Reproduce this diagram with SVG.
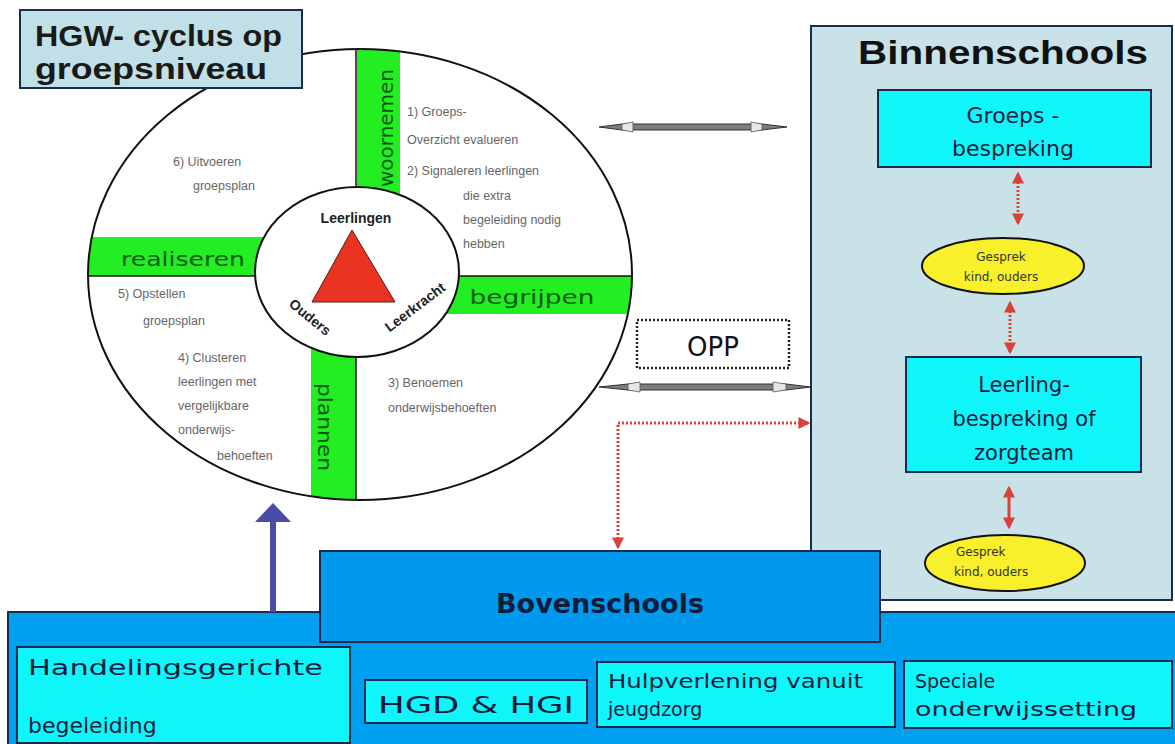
<svg xmlns="http://www.w3.org/2000/svg" width="1175" height="744" viewBox="0 0 1175 744">
<style>
.gray{font-family:"Liberation Sans",Arial,sans-serif;font-size:12.5px;fill:#666}
.comic{font-family:"DejaVu Sans",sans-serif;fill:#0e1d3c}
.bar{font-family:"DejaVu Sans",sans-serif;font-size:19px;fill:#0b5a12}
.box{stroke:#1b2b4b;stroke-width:2}
.cyan{fill:#0ff6fa}
.blue{fill:#00a0f0}
.reddot{fill:none;stroke:#d9423a;stroke-width:3;stroke-dasharray:2 2}
.ell{fill:#f7f02a;stroke:#111;stroke-width:2}
.gtext{font-family:"DejaVu Sans",sans-serif;font-size:12px;fill:#333}
.core{font-family:"Liberation Sans",Arial,sans-serif;font-weight:bold;fill:#222}
</style>
<defs>
<marker id="rh" viewBox="0 0 10 10" refX="8" refY="5" markerWidth="4" markerHeight="4" orient="auto-start-reverse"><path d="M0,0 L10,5 L0,10 z" fill="#d9423a"/></marker>
<clipPath id="outer"><ellipse cx="360" cy="274.5" rx="272" ry="225.5"/></clipPath>
</defs>

<g id="cycle">
<ellipse cx="360" cy="274.5" rx="272" ry="225.5" fill="#fff"/>
<g clip-path="url(#outer)">
<rect x="357" y="40" width="43" height="170" fill="#22ee22"/>
<rect x="80" y="237" width="190" height="39" fill="#22ee22"/>
<rect x="440" y="276" width="200" height="38" fill="#22ee22"/>
<rect x="311" y="330" width="45" height="180" fill="#22ee22"/>
<line x1="356" y1="40" x2="356" y2="510" stroke="#111" stroke-width="1.5"/>
<line x1="80" y1="276" x2="640" y2="276" stroke="#111" stroke-width="1.5"/>
</g>
<ellipse cx="360" cy="274.5" rx="272" ry="225.5" fill="none" stroke="#111" stroke-width="2"/>
<text class="bar" x="183" y="266" text-anchor="middle" textLength="124" lengthAdjust="spacingAndGlyphs">realiseren</text>
<text class="bar" x="532" y="304" text-anchor="middle" textLength="125" lengthAdjust="spacingAndGlyphs">begrijpen</text>
<text class="bar" transform="translate(393,128) rotate(-90)" text-anchor="middle" textLength="118" lengthAdjust="spacingAndGlyphs">woornemen</text>
<text class="bar" transform="translate(318,427) rotate(90)" text-anchor="middle" textLength="88" lengthAdjust="spacingAndGlyphs">plannen</text>
<text class="gray" x="173" y="166">6) Uitvoeren</text>
<text class="gray" x="193" y="190">groepsplan</text>
<text class="gray" x="407" y="116">1) Groeps-</text>
<text class="gray" x="407" y="144">Overzicht evalueren</text>
<text class="gray" x="407" y="175">2) Signaleren leerlingen</text>
<text class="gray" x="463" y="200">die extra</text>
<text class="gray" x="463" y="224">begeleiding nodig</text>
<text class="gray" x="463" y="248">hebben</text>
<text class="gray" x="118" y="298">5) Opstellen</text>
<text class="gray" x="143" y="325">groepsplan</text>
<text class="gray" x="178" y="362">4) Clusteren</text>
<text class="gray" x="178" y="386">leerlingen met</text>
<text class="gray" x="178" y="410">vergelijkbare</text>
<text class="gray" x="178" y="434">onderwijs-</text>
<text class="gray" x="217" y="460">behoeften</text>
<text class="gray" x="388" y="387">3) Benoemen</text>
<text class="gray" x="388" y="412">onderwijsbehoeften</text>
</g>

<g id="core">
<ellipse cx="357" cy="272" rx="102" ry="85" fill="#fff" stroke="#111" stroke-width="2"/>
<polygon points="352,230 312,302 395,302" fill="#ea3320" stroke="#5a1a10" stroke-width="1"/>
<text class="core" x="356" y="223" text-anchor="middle" font-size="14">Leerlingen</text>
<text class="core" transform="translate(307,321) rotate(39)" text-anchor="middle" font-size="14">Ouders</text>
<text class="core" transform="translate(418,311) rotate(-37)" text-anchor="middle" font-size="14">Leerkracht</text>
</g>

<g id="title">
<rect x="20" y="10" width="282" height="78" fill="#c1dfe6" class="box"/>
<text x="35" y="46" font-family="Liberation Sans,Arial,sans-serif" font-weight="bold" font-size="30" fill="#1a1a1a" textLength="247" lengthAdjust="spacingAndGlyphs">HGW- cyclus op</text>
<text x="35" y="79" font-family="Liberation Sans,Arial,sans-serif" font-weight="bold" font-size="30" fill="#1a1a1a" textLength="232" lengthAdjust="spacingAndGlyphs">groepsniveau</text>
</g>

<g id="binnenschools">
<rect x="811" y="26" width="361" height="574" fill="#c8e2e8" class="box"/>
<text x="1003" y="64" text-anchor="middle" font-family="Liberation Sans,Arial,sans-serif" font-weight="bold" font-size="33" fill="#111" textLength="290" lengthAdjust="spacingAndGlyphs">Binnenschools</text>
</g>

<g id="groepsbespreking">
<rect x="878" y="90" width="273" height="77" class="box cyan"/>
<text class="comic" x="1013" y="123" text-anchor="middle" font-size="22">Groeps -</text>
<text class="comic" x="1013" y="156" text-anchor="middle" font-size="22">bespreking</text>
</g>

<g id="gesprek1">
<ellipse cx="1003" cy="266" rx="81" ry="28" class="ell"/>
<text class="gtext" x="1001" y="261" text-anchor="middle">Gesprek</text>
<text class="gtext" x="1001" y="281" text-anchor="middle">kind, ouders</text>
</g>

<g id="leerlingbespreking">
<rect x="906" y="357" width="235" height="115" class="box cyan"/>
<text class="comic" x="1024" y="392" text-anchor="middle" font-size="21">Leerling-</text>
<text class="comic" x="1024" y="426" text-anchor="middle" font-size="21">bespreking of</text>
<text class="comic" x="1024" y="460" text-anchor="middle" font-size="21">zorgteam</text>
</g>

<g id="gesprek2">
<ellipse cx="1005" cy="563" rx="80" ry="28" class="ell"/>
<text class="gtext" x="956" y="556">Gesprek</text>
<text class="gtext" x="954" y="576">kind, ouders</text>
</g>

<g id="opp">
<rect x="637" y="320" width="152" height="48" fill="#fff" stroke="#222" stroke-width="2.5" stroke-dasharray="2 2"/>
<text x="713" y="356" text-anchor="middle" font-family="DejaVu Sans,sans-serif" font-size="26" fill="#111">OPP</text>
</g>

<g id="bovenschools">
<rect x="8" y="612" width="1170" height="134" class="box blue"/>
<rect x="320" y="551" width="560" height="91" class="box" fill="#0099ee"/>
<text class="comic" x="600" y="613" text-anchor="middle" font-size="27" font-weight="bold">Bovenschools</text>
</g>

<g id="handelingsgericht">
<rect x="17" y="647" width="333" height="96" class="box cyan"/>
<text class="comic" x="28" y="675" font-size="22" textLength="295" lengthAdjust="spacingAndGlyphs">Handelingsgerichte</text>
<text class="comic" x="28" y="733" font-size="22">begeleiding</text>
</g>

<g id="hgd">
<rect x="365" y="680" width="222" height="43" class="box cyan"/>
<text class="comic" x="378" y="713" font-size="23" textLength="196" lengthAdjust="spacingAndGlyphs">HGD &amp; HGI</text>
</g>

<g id="hulpverlening">
<rect x="597" y="662" width="298" height="65" class="box cyan"/>
<text class="comic" x="608" y="688" font-size="19" textLength="255" lengthAdjust="spacingAndGlyphs">Hulpverlening vanuit</text>
<text class="comic" x="608" y="716" font-size="19">jeugdzorg</text>
</g>

<g id="speciale">
<rect x="904" y="661" width="268" height="67" class="box cyan"/>
<text class="comic" x="915" y="688" font-size="19">Speciale</text>
<text class="comic" x="915" y="716" font-size="19" textLength="222" lengthAdjust="spacingAndGlyphs">onderwijssetting</text>
</g>

<g id="connectors">
<path d="M599,127 L622,124 L762,124 L787,127 L762,130 L622,130 Z" fill="#7d7d7d" stroke="#333" stroke-width="1"/>
<path d="M622,124 L633,122 L633,132 L622,130 Z M762,124 L751,122 L751,132 L762,130 Z" fill="#e6e6e6" stroke="#555" stroke-width="0.8"/>
<path d="M599,387 L628,384 L786,384 L811,387 L786,390 L628,390 Z" fill="#7d7d7d" stroke="#333" stroke-width="1"/>
<path d="M628,384 L640,382 L640,392 L628,390 Z M786,384 L773,382 L773,392 L786,390 Z" fill="#e6e6e6" stroke="#555" stroke-width="0.8"/>
<line x1="1018" y1="174" x2="1018" y2="223" class="reddot" marker-start="url(#rh)" marker-end="url(#rh)"/>
<line x1="1010" y1="303" x2="1010" y2="352" class="reddot" marker-start="url(#rh)" marker-end="url(#rh)"/>
<line x1="1009" y1="488" x2="1009" y2="527" stroke="#d9423a" stroke-width="3" marker-start="url(#rh)" marker-end="url(#rh)"/>
<path d="M618,547 V423 H808" class="reddot" marker-start="url(#rh)" marker-end="url(#rh)"/>
<line x1="273" y1="612" x2="273" y2="520" stroke="#4b4ba8" stroke-width="6"/>
<polygon points="273,503 255,522 291,522" fill="#4b4ba8"/>
</g>
</svg>
